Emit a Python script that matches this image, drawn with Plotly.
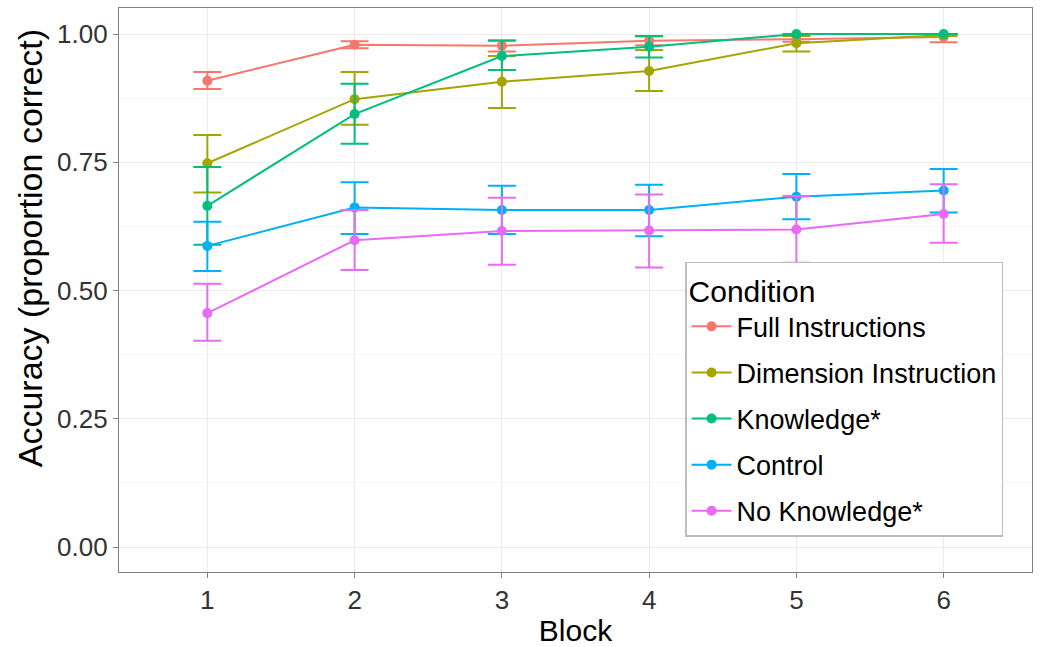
import plotly.graph_objects as go

blocks = [1, 2, 3, 4, 5, 6]
conditions = ["Full Instructions", "Dimension Instruction", "Knowledge*", "Control", "No Knowledge*"]
colors = ["#F8766D", "#A3A500", "#00BF7D", "#00B0F6", "#E76BF3"]

full_mean = [0.909, 0.979, 0.977, 0.987, 0.990, 0.994]
full_hi = [0.926, 0.986, 0.988, 0.995, 0.996, 1.000]
full_lo = [0.893, 0.972, 0.966, 0.978, 0.985, 0.984]

dim_mean = [0.748, 0.873, 0.907, 0.928, 0.982, 0.998]
dim_hi = [0.803, 0.926, 0.957, 0.969, 0.996, 1.000]
dim_lo = [0.691, 0.823, 0.856, 0.889, 0.966, 0.996]

know_mean = [0.665, 0.844, 0.957, 0.975, 1.000, 1.000]
know_hi = [0.741, 0.903, 0.987, 0.996, 1.000, 1.000]
know_lo = [0.589, 0.786, 0.930, 0.954, 0.999, 1.000]

ctrl_mean = [0.587, 0.662, 0.657, 0.657, 0.683, 0.695]
ctrl_hi = [0.634, 0.711, 0.704, 0.706, 0.727, 0.737]
ctrl_lo = [0.538, 0.610, 0.610, 0.606, 0.639, 0.652]

nok_mean = [0.456, 0.598, 0.616, 0.617, 0.619, 0.649]
nok_hi = [0.513, 0.657, 0.681, 0.687, 0.684, 0.707]
nok_lo = [0.402, 0.540, 0.550, 0.545, 0.554, 0.593]

series = [
    (full_mean, full_hi, full_lo),
    (dim_mean, dim_hi, dim_lo),
    (know_mean, know_hi, know_lo),
    (ctrl_mean, ctrl_hi, ctrl_lo),
    (nok_mean, nok_hi, nok_lo),
]

fig = go.Figure()
for name, col, (m, hi, lo) in zip(conditions, colors, series):
    fig.add_trace(go.Scatter(
        x=blocks, y=m, name=name, mode="lines+markers",
        legendgroup=name,
        line=dict(color=col, width=2),
        marker=dict(color=col, size=10),
        error_y=dict(type="data", symmetric=False,
                     array=[h - v for h, v in zip(hi, m)],
                     arrayminus=[v - l for v, l in zip(m, lo)],
                     color=col, thickness=2, width=14),
    ))

font_family = "Liberation Sans, Arial, sans-serif"
fig.update_layout(
    width=1040, height=647,
    margin=dict(l=119, r=8, t=8, b=75),
    paper_bgcolor="white", plot_bgcolor="white",
    font=dict(family=font_family, color="black"),
    showlegend=True,
    legend=dict(
        x=0.62, y=0.55, xanchor="left", yanchor="top",
        bgcolor="white", bordercolor="#BDBDBD", borderwidth=1.5,
        font=dict(size=27, color="black"),
        title=dict(text="Condition", font=dict(size=30, color="black")),
        tracegroupgap=8, itemwidth=40,
    ),
    xaxis=dict(
        title=dict(text="Block", font=dict(size=30, color="black"), standoff=8),
        automargin=False,
        range=[0.4, 6.6], tickmode="array", tickvals=blocks,
        ticktext=[str(b) for b in blocks],
        tickfont=dict(size=26, color="#333333"),
        showgrid=True, gridcolor="#EBEBEB", gridwidth=1.2,
        zeroline=False, showline=True, linecolor="#7F7F7F", linewidth=1.2, mirror=True,
        ticks="outside", ticklen=5, tickcolor="#7F7F7F",
    ),
    yaxis=dict(
        automargin=False,
        range=[-0.0487, 1.0507], tickmode="array",
        tickvals=[0, 0.25, 0.5, 0.75, 1.0],
        ticktext=["0.00", "0.25", "0.50", "0.75", "1.00"],
        tickfont=dict(size=26, color="#333333"),
        showgrid=True, gridcolor="#EBEBEB", gridwidth=1.2,
        minor=dict(tickvals=[0.125, 0.375, 0.625, 0.875], showgrid=True,
                   gridcolor="#F5F5F5", gridwidth=1),
        zeroline=False, showline=True, linecolor="#7F7F7F", linewidth=1.2, mirror=True,
        ticks="outside", ticklen=5, tickcolor="#7F7F7F",
    ),
    annotations=[dict(
        text="Accuracy (proportion correct)", textangle=-90,
        xref="paper", yref="paper", x=-0.0975, y=0.574,
        xanchor="center", yanchor="middle", showarrow=False,
        font=dict(size=34, color="black"),
    )],
)

fig.write_html("out.html")
